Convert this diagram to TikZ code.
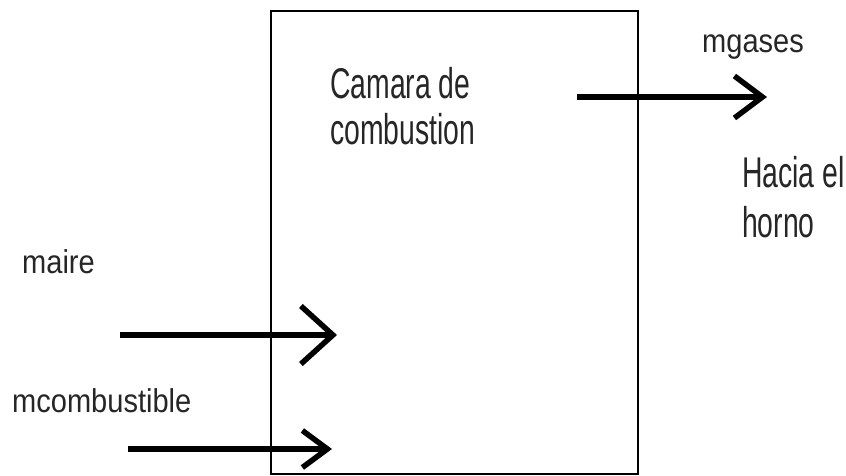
\documentclass[tikz,border=0pt]{standalone}
\usepackage{fontspec}
\setmainfont{Liberation Sans}
\newfontfamily\bigfont[FakeStretch=0.66]{Liberation Sans}
\newfontfamily\smallfont[FakeStretch=0.88]{Liberation Sans}
\usetikzlibrary{positioning}
\usetikzlibrary{arrows.meta}

\begin{document}
\begin{tikzpicture}[x=1pt,y=-1pt,
  flow/.style={line width=5.5pt},
  biglabel/.style={font=\bigfont\fontsize{43}{47}\selectfont, text=black!85, inner sep=0pt, anchor=base west, align=left},
  smalllabel/.style={font=\smallfont\fontsize{33}{36}\selectfont, text=black!85, inner sep=0pt, anchor=base west}]
  \useasboundingbox (0,0) rectangle (846,476);

  \node(camara)[draw, line width=2.2pt, minimum width=367pt, minimum height=463pt, anchor=north west, inner sep=0pt] at (270,10) {};
  \node(camaralabel)[biglabel] at (330,145) {Camara de\\combustion};

  \node(gases)[smalllabel] at (702,53) {mgases};
  \node(horno)[biglabel] at (742,237) {Hacia el\\[3pt]horno};
  \node(aire)[smalllabel] at (22,273) {maire};
  \node(comb)[smalllabel] at (12,412) {mcombustible};

  \coordinate(gasesin) at (577,97);
  \coordinate(gasesout) at (767,97);
  \coordinate(airein) at (120,335);
  \coordinate(aireout) at (337,335);
  \coordinate(combin) at (128,449);
  \coordinate(combout) at (332,449);

  \draw[flow, -{Straight Barb[length=28pt, width=42pt]}](gasesin)--(gasesout);
  \draw[flow, -{Straight Barb[length=32pt, width=58pt]}](airein)--(aireout);
  \draw[flow, -{Straight Barb[length=25pt, width=37pt]}](combin)--(combout);

\end{tikzpicture}
\end{document}
